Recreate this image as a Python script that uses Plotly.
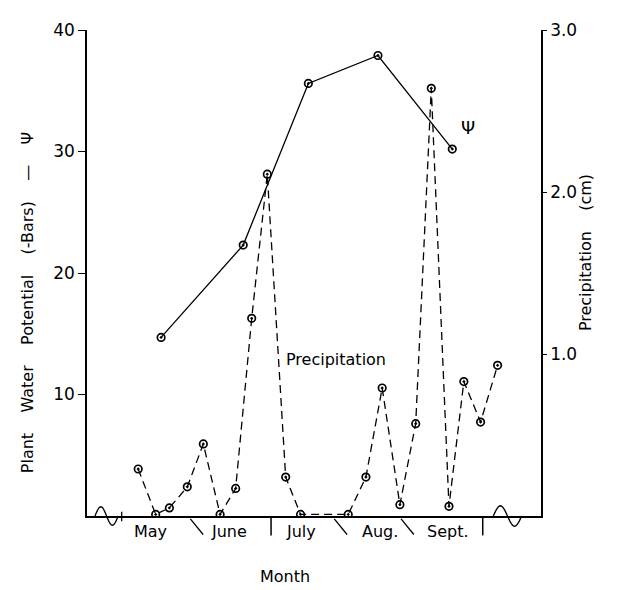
import numpy as np
import plotly.graph_objects as go

# ---- data (x = days after 1 May) ----
psi_days = [16.7, 51.5, 79.1, 108.6, 140.1]
psi_bars = [14.7, 22.3, 35.6, 37.9, 30.2]

precip_days = [7.0, 14.4, 20.2, 27.8, 34.6, 41.7, 48.3, 55.1, 61.7, 69.5, 75.8,
               96.0, 103.5, 110.4, 117.9, 124.6, 131.2, 138.7, 145.0, 152.1, 159.3]
precip_cm = [0.29, 0.01, 0.05, 0.18, 0.445, 0.01, 0.17, 1.22, 2.11, 0.24, 0.01,
             0.01, 0.24, 0.79, 0.07, 0.57, 2.64, 0.06, 0.83, 0.58, 0.93]

month_labels = ["May", "June", "July", "Aug.", "Sept."]
month_label_days = [12.4, 45.5, 76.0, 109.4, 138.3]
sep_days = [0.0, 31.8, 63.3, 92.8, 121.1, 153.0]
sep_kinds = ["start", "slash", "bar", "slash", "slash", "bar"]

left_ticks = [10, 20, 30, 40]
right_ticks = [1.0, 2.0, 3.0]
right_ticktext = ["1.0", "2.0", "3.0"]

FONT = "DejaVu Sans"
fig = go.Figure()

fig.add_trace(go.Scatter(
    x=psi_days, y=psi_bars, mode="lines+markers", yaxis="y",
    line=dict(color="black", width=1.3),
    marker=dict(symbol="circle-open-dot", size=7.5, color="black", line=dict(width=1.7)),
    showlegend=False))

fig.add_trace(go.Scatter(
    x=precip_days, y=precip_cm, mode="lines+markers", yaxis="y2",
    line=dict(color="black", width=1.3, dash="8px,5px"),
    marker=dict(symbol="circle-open-dot", size=7.5, color="black", line=dict(width=1.7)),
    showlegend=False))

shapes = []
for d, k in zip(sep_days, sep_kinds):
    if k == "slash":
        shapes.append(dict(type="line", xref="x", yref="paper", x0=d - 2.7, x1=d + 2.7,
                           y0=-0.006, y1=-0.038, line=dict(color="black", width=1.3)))
    elif k == "bar":
        shapes.append(dict(type="line", xref="x", yref="paper", x0=d, x1=d,
                           y0=-0.002, y1=-0.040, line=dict(color="black", width=1.5)))
    else:
        shapes.append(dict(type="line", xref="x", yref="paper", x0=d, x1=d,
                           y0=0.009, y1=-0.011, line=dict(color="black", width=1.3)))

def wave(x0, x1, amp):
    t = np.linspace(0, 1, 25)
    xs = x0 + (x1 - x0) * t
    ys = amp * np.sin(2 * np.pi * t)
    return "M " + " L ".join(f"{a:.3f},{b:.4f}" for a, b in zip(xs, ys))

shapes.append(dict(type="path", xref="x", yref="paper", path=wave(-11.3, -1.5, 0.019),
                   line=dict(color="black", width=1.3)))
shapes.append(dict(type="path", xref="x", yref="paper", path=wave(157.5, 169.5, 0.021),
                   line=dict(color="black", width=1.3)))

def ann(x, y, text, size=16, angle=0, xref="paper", yref="paper"):
    return dict(x=x, y=y, xref=xref, yref=yref, text=text, showarrow=False, textangle=angle,
                xanchor="center", yanchor="middle",
                font=dict(size=size, family=FONT, color="black"))

annotations = [ann(d, -0.032, lab, xref="x") for lab, d in zip(month_labels, month_label_days)]

sp = "\u00a0" * 4
annotations += [
    ann(-0.132, 0.438, f"Plant{sp}Water{sp}Potential{sp}(-Bars){sp}\u2014{sp}\u03a8", angle=-90),
    ann(1.097, 0.541, f"Precipitation{sp}(cm)", angle=-90),
    ann(0.436, -0.125, "Month"),
    ann(0.548, 0.321, "Precipitation"),
    ann(0.839, 0.800, "\u03a8", size=18),
]

# page body adds an 8px offset: plot area lands at x 87..541, y 21..516 in the window
fig.update_layout(
    width=610, height=582,
    margin=dict(l=79, r=77, t=13, b=74),
    paper_bgcolor="white", plot_bgcolor="white",
    font=dict(family=FONT, color="black"),
    xaxis=dict(range=[-14.7, 177.7], showgrid=False, zeroline=False, showticklabels=False,
               ticks="", showline=True, linecolor="black", linewidth=1.5),
    yaxis=dict(range=[0, 40], tickvals=left_ticks, showgrid=False, zeroline=False,
               ticks="outside", ticklen=7, tickwidth=1.3, tickcolor="black",
               showline=True, linecolor="black", linewidth=1.5,
               tickfont=dict(size=17, family=FONT, color="black")),
    yaxis2=dict(range=[0, 3], tickvals=right_ticks, ticktext=right_ticktext, overlaying="y",
                side="right", showgrid=False, zeroline=False,
                ticks="outside", ticklen=4, tickwidth=1.3, tickcolor="black",
                showline=True, linecolor="black", linewidth=1.5,
                tickfont=dict(size=17, family=FONT, color="black")),
    shapes=shapes, annotations=annotations,
)

fig.write_html("out.html")
